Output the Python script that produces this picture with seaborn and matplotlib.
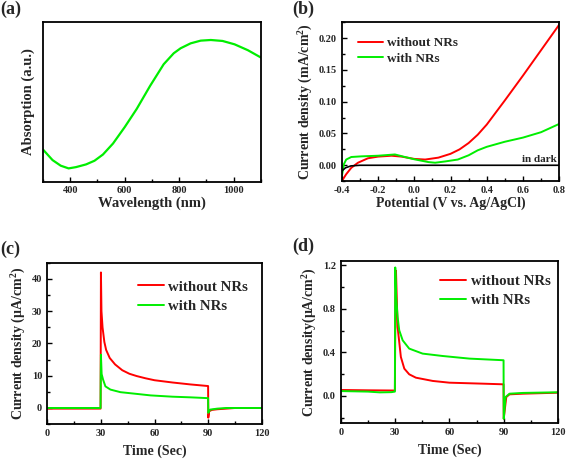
import numpy as np
import pandas as pd
import matplotlib
matplotlib.use("Agg")
import matplotlib.pyplot as plt
import seaborn as sns
from matplotlib.ticker import MultipleLocator, NullLocator, FuncFormatter

# (a) absorption spectrum
wl_a = [300, 335, 365, 394, 421, 458, 489, 520, 557, 600, 644, 693, 743, 780,
        805, 842, 879, 916, 959, 1003, 1052, 1100]
abs_a = [0.201, 0.135, 0.100, 0.083, 0.091, 0.108, 0.131, 0.170, 0.239, 0.342,
         0.456, 0.600, 0.736, 0.805, 0.836, 0.867, 0.884, 0.888, 0.882, 0.861,
         0.824, 0.778]

# (b) linear sweep
v_red = [-0.4, -0.394, -0.376, -0.348, -0.311, -0.256, -0.2, -0.126, -0.07, 0.0,
         0.06, 0.133, 0.2, 0.25, 0.3, 0.35, 0.4, 0.5, 0.6, 0.7, 0.8]
j_red = [-0.026, -0.022, -0.014, -0.004, 0.004, 0.011, 0.0136, 0.015, 0.0136, 0.010,
         0.009, 0.012, 0.018, 0.025, 0.035, 0.048, 0.064, 0.102, 0.141, 0.181, 0.221]
v_grn = [-0.4, -0.389, -0.376, -0.348, -0.293, -0.2, -0.107, -0.052, 0.0, 0.078,
         0.115, 0.17, 0.24, 0.3, 0.35, 0.4, 0.5, 0.6, 0.7, 0.8]
j_grn = [-0.017, 0.0016, 0.009, 0.013, 0.014, 0.015, 0.017, 0.013, 0.0094, 0.005,
         0.004, 0.006, 0.009, 0.0157, 0.0235, 0.029, 0.037, 0.0435, 0.052, 0.065]
v_dark = [-0.4, -0.38, -0.35, -0.3, 0.0, 0.8]
j_dark = [-0.009, -0.004, -0.001, 0.0, 0.0, 0.0]

# (c) transient photocurrent, uA/cm2
t_c_red = [0, 29.9, 30.0, 30.1, 30.4, 31.0, 32.0, 33.0, 35.0, 38.0, 42.0, 46.0,
           50.0, 55.0, 60.0, 70.0, 80.0, 89.9, 90.0, 90.5, 92.0, 95.0, 100.0, 105.0, 120.0]
j_c_red = [-0.2, -0.2, 20.0, 42.0, 30.0, 25.0, 20.5, 18.0, 15.5, 13.5, 11.7, 10.6,
           9.9, 9.2, 8.6, 7.9, 7.3, 6.8, -3.0, -1.0, -0.6, -0.4, -0.2, 0.0, 0.0]
t_c_grn = [0, 29.9, 30.0, 30.1, 30.5, 31.3, 32.6, 35.4, 41.0, 50.3, 57.8, 70.0,
           80.0, 89.9, 90.0, 91.0, 95.0, 100.0, 120.0]
j_c_grn = [0.0, 0.0, 10.0, 16.5, 10.5, 8.8, 6.7, 5.7, 4.9, 4.35, 3.9, 3.5,
           3.3, 3.05, -1.5, -0.5, -0.2, 0.0, 0.0]

# (d) transient photocurrent, uA/cm2
t_d_red = [0, 15, 29.9, 30.2, 30.5, 31.4, 33.2, 35.1, 37.8, 41.5, 50.8, 60.0,
           78.5, 89.9, 90.0, 91.4, 93.2, 100.6, 120.0]
j_d_red = [0.055, 0.052, 0.05, 0.9, 1.15, 0.634, 0.358, 0.251, 0.199, 0.168,
           0.138, 0.122, 0.113, 0.107, -0.208, -0.01, 0.015, 0.021, 0.03]
t_d_grn = [0, 15, 21.6, 28.0, 29.9, 30.1, 30.6, 31.4, 32.3, 34.2, 37.8, 45.2,
           56.3, 71.1, 89.9, 90.0, 91.0, 93.2, 100.6, 120.0]
j_d_grn = [0.045, 0.04, 0.033, 0.035, 0.04, 1.18, 0.91, 0.725, 0.603, 0.511,
           0.435, 0.389, 0.367, 0.343, 0.328, -0.21, -0.01, 0.021, 0.028, 0.034]

RED = "#ff0000"
GREEN = "#00ee00"
SERIF = ["Liberation Serif", "DejaVu Serif"]

sns.set_theme(style="ticks")
plt.rcParams["font.family"] = SERIF
plt.rcParams["font.weight"] = "bold"
plt.rcParams["axes.labelweight"] = "bold"
plt.rcParams["mathtext.fontset"] = "custom"
plt.rcParams["mathtext.rm"] = "Liberation Serif:bold"
plt.rcParams["mathtext.it"] = "Liberation Serif:bold"
plt.rcParams["mathtext.bf"] = "Liberation Serif:bold"

fig = plt.figure(figsize=(5.66, 4.61), dpi=100)
fig.patch.set_facecolor("white")

boxes = {
    "a": [0.076, 0.606, 0.385, 0.346],
    "b": [0.604, 0.607, 0.384, 0.345],
    "c": [0.083, 0.080, 0.380, 0.350],
    "d": [0.602, 0.082, 0.384, 0.352],
}


def style_axes(ax):
    for sp in ax.spines.values():
        sp.set_linewidth(1.3)
        sp.set_color("black")
    ax.tick_params(which="both", direction="in", top=False, right=False,
                   labelsize=7.5, width=1.0, color="black")
    ax.tick_params(which="major", length=3.5)
    ax.tick_params(which="minor", length=2)
    for lab in ax.get_xticklabels() + ax.get_yticklabels():
        lab.set_fontweight("bold")


def draw(ax, x, y, color, label=None, lw=1.4):
    sns.lineplot(x=x, y=y, color=color, label=label, lw=lw, ax=ax,
                 estimator=None, sort=False, legend=False)


# ---- (a)
ax = fig.add_axes(boxes["a"])
draw(ax, wl_a, abs_a, GREEN, lw=1.6)
ax.set_xlim(300, 1100)
ax.set_ylim(0, 1)
ax.xaxis.set_major_locator(MultipleLocator(200))
ax.xaxis.set_minor_locator(MultipleLocator(100))
ax.yaxis.set_major_locator(NullLocator())
ax.set_xlabel("Wavelength (nm)", fontsize=10.5, labelpad=1)
ax.set_ylabel("Absorption (a.u.)", fontsize=10.5, labelpad=6)
style_axes(ax)

# ---- (b)
ax = fig.add_axes(boxes["b"])
draw(ax, v_red, j_red, RED, "without NRs")
draw(ax, v_grn, j_grn, GREEN, "with NRs")
draw(ax, v_dark, j_dark, "black", lw=1.2)
ax.text(0.785, 0.002, "in dark", fontsize=8, fontweight="bold",
        ha="right", va="bottom")
ax.set_xlim(-0.4, 0.8)
ax.set_ylim(-0.025, 0.225)
ax.xaxis.set_major_locator(MultipleLocator(0.2))
ax.xaxis.set_minor_locator(MultipleLocator(0.1))
ax.yaxis.set_major_locator(MultipleLocator(0.05))
ax.yaxis.set_minor_locator(MultipleLocator(0.025))
ax.xaxis.set_major_formatter(FuncFormatter(lambda v, p: f"{v:.1f}"))
ax.yaxis.set_major_formatter(FuncFormatter(lambda v, p: f"{v:.2f}"))
ax.set_xlabel("Potential (V vs. Ag/AgCl)", fontsize=10, labelpad=1)
ax.set_ylabel("Current density (mA/cm$^2$)", fontsize=10, labelpad=3)
ax.legend(loc="upper left", bbox_to_anchor=(0.02, 0.98), frameon=False,
          prop={"family": SERIF, "weight": "bold", "size": 9.5},
          handlelength=1.9, handletextpad=0.3, labelspacing=0.25)
style_axes(ax)

# ---- (c)
ax = fig.add_axes(boxes["c"])
draw(ax, t_c_red, j_c_red, RED, "without NRs")
draw(ax, t_c_grn, j_c_grn, GREEN, "with NRs")
ax.set_xlim(0, 120)
ax.set_ylim(-5, 45)
ax.xaxis.set_major_locator(MultipleLocator(30))
ax.xaxis.set_minor_locator(MultipleLocator(15))
ax.yaxis.set_major_locator(MultipleLocator(10))
ax.yaxis.set_minor_locator(MultipleLocator(5))
ax.set_xlabel("Time (Sec)", fontsize=10, labelpad=5)
ax.set_ylabel("Current density (\u03bcA/cm$^2$)", fontsize=10, labelpad=3)
ax.legend(loc="upper left", bbox_to_anchor=(0.36, 0.975), frameon=False,
          prop={"family": SERIF, "weight": "bold", "size": 10.7},
          handlelength=1.75, handletextpad=0.3, labelspacing=0.4)
style_axes(ax)

# ---- (d)
ax = fig.add_axes(boxes["d"])
draw(ax, t_d_red, j_d_red, RED, "without NRs")
draw(ax, t_d_grn, j_d_grn, GREEN, "with NRs")
ax.set_xlim(0, 120)
ax.set_ylim(-0.25, 1.24)
ax.xaxis.set_major_locator(MultipleLocator(30))
ax.xaxis.set_minor_locator(MultipleLocator(15))
ax.yaxis.set_major_locator(MultipleLocator(0.4))
ax.yaxis.set_minor_locator(MultipleLocator(0.2))
ax.yaxis.set_major_formatter(FuncFormatter(lambda v, p: f"{v:.1f}"))
ax.set_xlabel("Time (Sec)", fontsize=10, labelpad=5)
ax.set_ylabel("Current density(\u03bcA/cm$^2$)", fontsize=10, labelpad=3)
ax.legend(loc="upper left", bbox_to_anchor=(0.396, 1.0), frameon=False,
          prop={"family": SERIF, "weight": "bold", "size": 10.7},
          handlelength=1.75, handletextpad=0.3, labelspacing=0.4)
style_axes(ax)

# panel letters
for lbl, (px, py) in {"(a)": (0, 1), "(b)": (292, 1), "(c)": (0, 241),
                      "(d)": (292, 238)}.items():
    fig.text(px / 566, 1 - py / 461, lbl, fontsize=13, fontweight="bold",
             ha="left", va="top")

fig.savefig("out.png", dpi=100)
